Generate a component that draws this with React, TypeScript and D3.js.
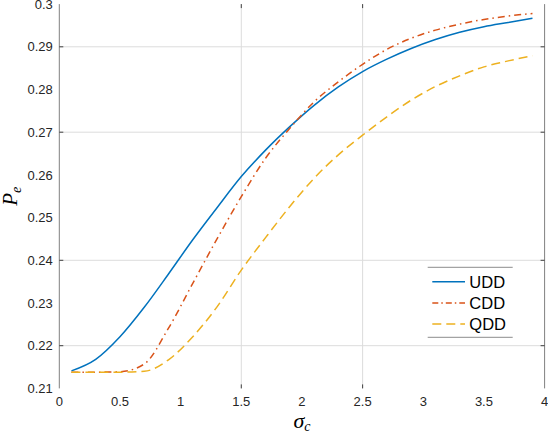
import React from 'react';
import * as d3 from 'd3';

const sigma = [0.1, 0.3, 0.5, 0.7, 0.9, 1.1, 1.3, 1.5, 1.7, 1.9, 2.1, 2.3, 2.5, 2.7, 2.9, 3.1, 3.3, 3.5, 3.7, 3.9];
const udd = [0.2141, 0.2168, 0.2221, 0.229, 0.2368, 0.2448, 0.2523, 0.2596, 0.2658, 0.2713, 0.2763, 0.2806, 0.2842, 0.2871, 0.2896, 0.2917, 0.2934, 0.2947, 0.2957, 0.2967];
const cdd = [0.2138, 0.2138, 0.2139, 0.2157, 0.2241, 0.2346, 0.245, 0.2549, 0.2639, 0.2709, 0.2771, 0.2818, 0.2859, 0.2894, 0.292, 0.2939, 0.2953, 0.2964, 0.2972, 0.2978];
const qdd = [0.2138, 0.2138, 0.2138, 0.214, 0.2167, 0.2221, 0.2291, 0.2377, 0.2453, 0.2526, 0.2592, 0.2647, 0.2693, 0.2736, 0.2775, 0.2807, 0.2832, 0.2853, 0.2867, 0.2879];

const seriesNames = ['UDD', 'CDD', 'QDD'];
const xTicks = [0, 0.5, 1, 1.5, 2, 2.5, 3, 3.5, 4];
const xTickLabels = ['0', '0.5', '1', '1.5', '2', '2.5', '3', '3.5', '4'];
const yTicks = [0.21, 0.22, 0.23, 0.24, 0.25, 0.26, 0.27, 0.28, 0.29, 0.3];
const yTickLabels = ['0.21', '0.22', '0.23', '0.24', '0.25', '0.26', '0.27', '0.28', '0.29', '0.3'];
const gridX = [1.5, 2.5];
const gridY = [0.22, 0.24, 0.27, 0.29];

const colors = ['#0072BD', '#D95319', '#EDB120'];
const dashes = ['none', '7,4,1.5,4', '9,5'];
const legendDashes = ['none', '6,3,1.5,3', '9,5'];

export default function App() {
  const W = 548, H = 434;
  const left = 59.3, right = 544.6, top = 4.1, bottom = 388.4;
  const x = d3.scaleLinear().domain([0, 4]).range([left, right]);
  const y = d3.scaleLinear().domain([0.21, 0.3]).range([bottom, top]);
  const line = d3
    .line<number>()
    .x((_, i) => x(sigma[i]))
    .y((d) => y(d))
    .curve(d3.curveMonotoneX);
  const data = [udd, cdd, qdd];
  const font = "'Liberation Sans', Arial, Helvetica, sans-serif";
  const tickColor = '#262626';

  const legX0 = 427.7, legX1 = 512.7, legTop = 267.3, legBot = 337.3;
  const legRows = [281.7, 302.9, 324.1];

  return (
    <svg width={W} height={H} style={{ position: 'absolute', left: 0, top: 0, background: '#fff' }}>
      <rect x={0} y={0} width={W} height={H} fill="#fff" />
      {gridX.map((g) => (
        <line key={'gx' + g} x1={x(g)} x2={x(g)} y1={top} y2={bottom} stroke="#dcdcdc" strokeWidth={1} />
      ))}
      {gridY.map((g) => (
        <line key={'gy' + g} x1={left} x2={right} y1={y(g)} y2={y(g)} stroke="#dcdcdc" strokeWidth={1} />
      ))}
      <line x1={left} x2={left} y1={top} y2={bottom} stroke="#808080" strokeWidth={1} />
      <line x1={right} x2={right} y1={top} y2={bottom} stroke="#808080" strokeWidth={1} />
      {gridY.map((g) => (
        <g key={'ty' + g}>
          <line x1={left} x2={left + 4} y1={y(g)} y2={y(g)} stroke="#404040" strokeWidth={1} />
          <line x1={right - 4} x2={right} y1={y(g)} y2={y(g)} stroke="#404040" strokeWidth={1} />
        </g>
      ))}
      {gridX.map((g) => (
        <g key={'tx' + g}>
          <line x1={x(g)} x2={x(g)} y1={bottom} y2={bottom - 4} stroke="#404040" strokeWidth={1} />
          <line x1={x(g)} x2={x(g)} y1={top} y2={top + 4} stroke="#404040" strokeWidth={1} />
        </g>
      ))}
      {yTicks.map((t, i) => (
        <text key={'yl' + t} x={left - 6.5} y={y(t)} dy="0.36em" textAnchor="end" fontFamily={font} fontSize={13} fill={tickColor}>
          {yTickLabels[i]}
        </text>
      ))}
      {xTicks.map((t, i) => (
        <text key={'xl' + t} x={x(t)} y={bottom + 18} textAnchor="middle" fontFamily={font} fontSize={13} fill={tickColor}>
          {xTickLabels[i]}
        </text>
      ))}
      {data.map((d, i) => (
        <path key={'s' + i} d={line(d) || ''} fill="none" stroke={colors[i]} strokeWidth={1.5} strokeDasharray={dashes[i]} />
      ))}
      <g>
        <rect x={legX0} y={legTop} width={legX1 - legX0} height={legBot - legTop} fill="#fff" />
        <line x1={legX0} x2={legX1} y1={legTop} y2={legTop} stroke="#8c8c8c" strokeWidth={1} />
        <line x1={legX0} x2={legX1} y1={legBot} y2={legBot} stroke="#8c8c8c" strokeWidth={1} />
        {seriesNames.map((n, i) => (
          <g key={'lg' + n}>
            <line x1={432.3} x2={465} y1={legRows[i]} y2={legRows[i]} stroke={colors[i]} strokeWidth={1.5} strokeDasharray={legendDashes[i]} />
            <text x={469.3} y={legRows[i]} dy="0.36em" fontFamily={font} fontSize={16.5} fill="#000">
              {n}
            </text>
          </g>
        ))}
      </g>
      <text transform={`translate(17,${(top + bottom) / 2}) rotate(-90)`} textAnchor="middle" fontFamily="'Liberation Serif', 'Times New Roman', serif" fontStyle="italic" fontSize={21} fill="#000">
        P<tspan fontSize={14} dy={4}>e</tspan>
      </text>
      <text x={(left + right) / 2} y={428} textAnchor="middle" fontFamily="'Liberation Serif', 'Times New Roman', serif" fontStyle="italic" fontSize={22} fill="#000">
        σ<tspan fontSize={14} dy={3}>c</tspan>
      </text>
    </svg>
  );
}
